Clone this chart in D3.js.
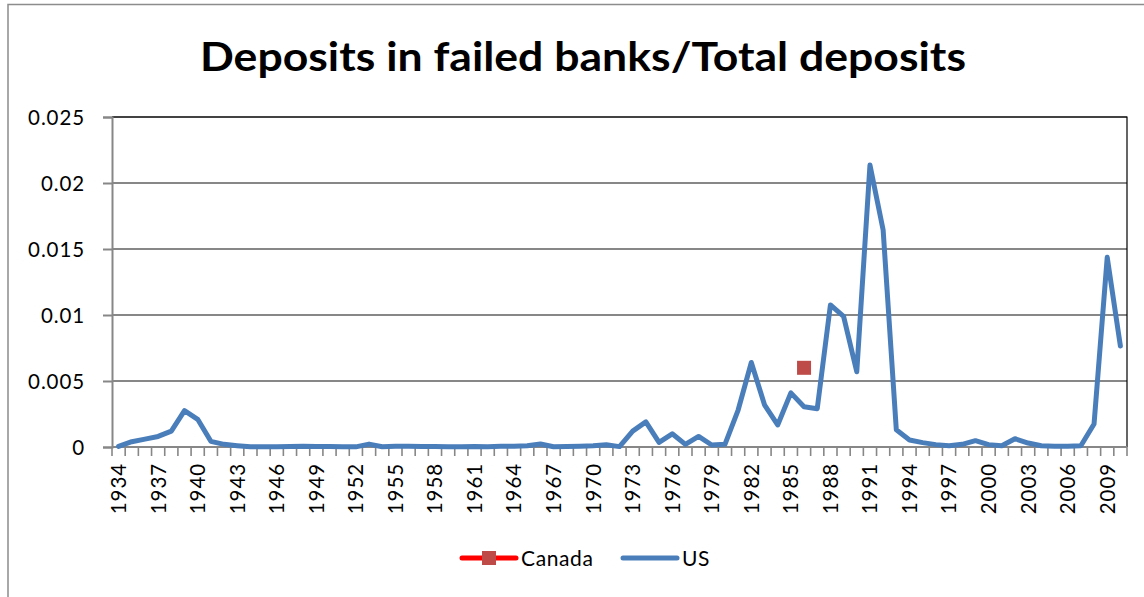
<!DOCTYPE html>
<html>
<head>
<meta charset="utf-8">
<script src="https://cdn.jsdelivr.net/npm/d3@7/dist/d3.min.js"></script>
<style>
  html, body { margin: 0; padding: 0; background: #fff; }
  svg { display: block; }
  text { font-family: Lato, "Open Sans", sans-serif; fill: #000; }
</style>
</head>
<body>
<svg id="chart" width="1144" height="597"></svg>
<script>
// Years on the category axis
const years = d3.range(1934, 2011);

// US: deposits in failed banks as a share of total deposits, one value per year
const usValues = [
  0.00005, 0.0004, 0.0006, 0.0008, 0.0012, 0.00275, 0.0021, 0.00043, 0.0002, 0.0001,
  0.00002, 0.00001, 0.00001, 0.00003, 0.00005, 0.00004, 0.00003, 0.00002, 0.00001, 0.00022,
  0.00002, 0.00005, 0.00005, 0.00004, 0.00003, 0.00001, 0.00002, 0.00003, 0.00001, 0.00005,
  0.00005, 0.0001, 0.00023, 0.00002, 0.00003, 0.00006, 0.0001, 0.00017, 0.00003, 0.0012,
  0.0019, 0.00035, 0.001, 0.0002, 0.0008, 0.00015, 0.0002, 0.0028, 0.0064, 0.0032,
  0.00167, 0.0041, 0.00305, 0.0029, 0.01076, 0.0099, 0.0057, 0.02136, 0.01644, 0.0013,
  0.00053, 0.00033, 0.00018, 0.0001, 0.0002, 0.00048, 0.00018, 0.0001, 0.00063, 0.0003,
  0.0001, 0.00005, 0.00005, 0.0001, 0.00174, 0.01437, 0.00765
];

// Canada: a single reported year
const canadaYears = [1986];
const canadaValues = [0.006];

// Value axis ticks and labelled years
const yTicks = [0, 0.005, 0.01, 0.015, 0.02, 0.025];
const labelYears = years.filter(y => (y - 1934) % 3 === 0);

const seriesNames = ["Canada", "US"];
const usColor = "#4a7ebb";
const canadaLine = "#ff0000";
const canadaMarker = "#be4b48";

const svg = d3.select("#chart");
const plot = { left: 112, right: 1127, top: 117, bottom: 447 };

// Chart area frame
svg.append("path")
  .attr("d", "M8,600 L8,4.5 L1150,4.5")
  .attr("fill", "none")
  .attr("stroke", "#8c8c8c")
  .attr("stroke-width", 1.5);

// Title
svg.append("text")
  .attr("x", 583)
  .attr("y", 71)
  .attr("text-anchor", "middle")
  .attr("font-size", 40)
  .attr("font-weight", "bold")
  .attr("textLength", 766)
  .attr("lengthAdjust", "spacingAndGlyphs")
  .text("Deposits in failed banks/Total deposits");

const x = d3.scaleBand().domain(years).range([plot.left, plot.right]).padding(0);
const y = d3.scaleLinear().domain([0, 0.025]).range([plot.bottom, plot.top]);
const cx = yr => x(yr) + x.bandwidth() / 2;

// Horizontal gridlines
svg.append("g")
  .selectAll("line")
  .data(yTicks.slice(1))
  .join("line")
  .attr("x1", plot.left).attr("x2", plot.right)
  .attr("y1", d => y(d)).attr("y2", d => y(d))
  .attr("stroke", "#878787")
  .attr("stroke-width", 2);

// Plot area border (top and right)
svg.append("path")
  .attr("d", `M${plot.left},${plot.top} L${plot.right},${plot.top} L${plot.right},${plot.bottom}`)
  .attr("fill", "none")
  .attr("stroke", "#000")
  .attr("stroke-width", 1.2);

// Value axis
const yAxis = svg.append("g")
  .attr("transform", `translate(${plot.left},0)`)
  .call(d3.axisLeft(y)
    .tickValues(yTicks)
    .tickSize(9)
    .tickPadding(18)
    .tickFormat(d => String(+d.toFixed(3))));
yAxis.select(".domain").attr("stroke", "#878787").attr("stroke-width", 2);
yAxis.selectAll(".tick line").attr("stroke", "#878787").attr("stroke-width", 2);
yAxis.selectAll(".tick text")
  .attr("font-family", "Lato, sans-serif")
  .attr("font-size", 20.5)
  .attr("letter-spacing", 0.9)
  .attr("dy", "0.36em");

// Category axis: tick marks between categories
const boundaries = years.map(yr => x(yr)).concat([plot.right]);
svg.append("g")
  .selectAll("line")
  .data(boundaries)
  .join("line")
  .attr("x1", d => d).attr("x2", d => d)
  .attr("y1", plot.bottom).attr("y2", plot.bottom + 9)
  .attr("stroke", "#878787")
  .attr("stroke-width", 1.6);

svg.append("line")
  .attr("x1", plot.left).attr("x2", plot.right)
  .attr("y1", plot.bottom).attr("y2", plot.bottom)
  .attr("stroke", "#878787")
  .attr("stroke-width", 2);

const xAxis = svg.append("g")
  .attr("transform", `translate(0,${plot.bottom})`)
  .call(d3.axisBottom(x).tickValues(labelYears).tickSize(0).tickPadding(0));
xAxis.select(".domain").remove();
xAxis.selectAll(".tick text")
  .attr("font-family", "Lato, sans-serif")
  .attr("font-size", 20.5)
  .attr("letter-spacing", 0.9)
  .attr("text-anchor", "end")
  .attr("transform", "rotate(-90)")
  .attr("x", -16)
  .attr("y", 0)
  .attr("dy", "0.36em");

// US series
const line = d3.line()
  .x((d, i) => cx(years[i]))
  .y(d => y(d));

svg.append("path")
  .datum(usValues)
  .attr("d", line)
  .attr("fill", "none")
  .attr("stroke", usColor)
  .attr("stroke-width", 5)
  .attr("stroke-linejoin", "round")
  .attr("stroke-linecap", "round");

// Canada series
svg.append("g")
  .selectAll("rect")
  .data(canadaYears.map((yr, i) => ({ yr, v: canadaValues[i] })))
  .join("rect")
  .attr("x", d => cx(d.yr) - 7)
  .attr("y", d => y(d.v) - 7)
  .attr("width", 14)
  .attr("height", 14)
  .attr("fill", canadaMarker);

// Legend
const legend = svg.append("g").attr("transform", "translate(0,558)");
const legendItems = [
  { name: seriesNames[0], x0: 462, color: canadaLine, marker: true },
  { name: seriesNames[1], x0: 623, color: usColor, marker: false }
];
legendItems.forEach(it => {
  legend.append("line")
    .attr("x1", it.x0).attr("x2", it.x0 + 54)
    .attr("y1", 0).attr("y2", 0)
    .attr("stroke", it.color)
    .attr("stroke-width", 5)
    .attr("stroke-linecap", "round");
  if (it.marker) {
    legend.append("rect")
      .attr("x", it.x0 + 27 - 7).attr("y", -7)
      .attr("width", 14).attr("height", 14)
      .attr("fill", canadaMarker);
  }
  legend.append("text")
    .attr("x", it.x0 + 59)
    .attr("y", 0)
    .attr("dy", "0.36em")
    .attr("font-size", 21)
    .attr("letter-spacing", 0.6)
    .text(it.name);
});
</script>
</body>
</html>
